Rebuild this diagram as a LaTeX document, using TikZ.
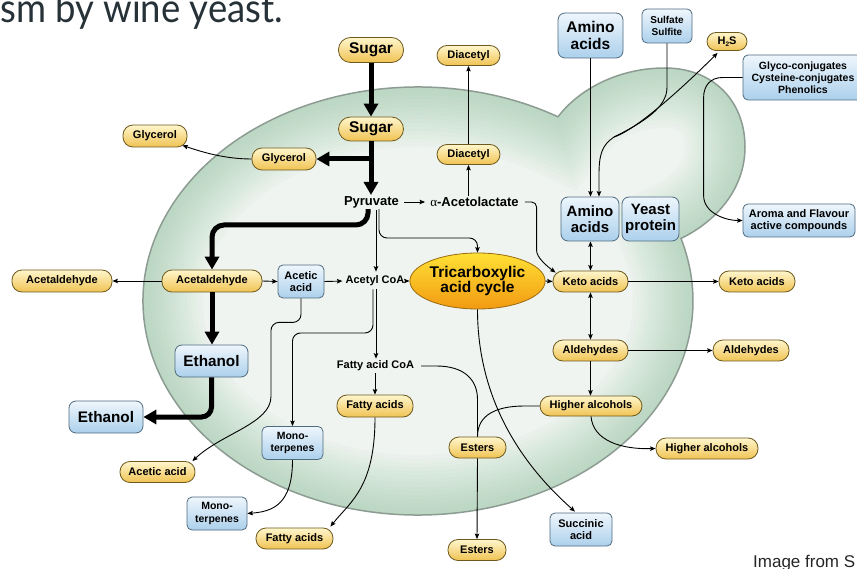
\documentclass[tikz,border=0pt]{standalone}
\usepackage{fontspec}
\setmainfont{Liberation Sans}
\newfontfamily\titlefont{Lato}
\newfontfamily\greekfont{Liberation Serif}
\usetikzlibrary{arrows.meta,calc,shapes.geometric}
\definecolor{ytop}{HTML}{FFF6CC}
\definecolor{ybot}{HTML}{F0C353}
\definecolor{ybd}{HTML}{6E5A1E}
\definecolor{btop}{HTML}{EEF6FC}
\definecolor{bbot}{HTML}{ACD0EC}
\definecolor{bbd}{HTML}{4F6B80}
\definecolor{ttop}{HTML}{FFE135}
\definecolor{tbot}{HTML}{F29A12}
\definecolor{tbd}{HTML}{9B6A10}
\definecolor{cellin}{HTML}{EFF4F0}
\definecolor{cellg}{HTML}{92C3A0}
\definecolor{cellbd}{HTML}{8D9C92}
\definecolor{titlec}{HTML}{263238}
\newcommand\fsz[2]{\fontsize{#1}{#2}\selectfont}
\tikzset{
  cellshape/.style={insert path={(418,301) ++(-59.4:275 and 214)
     arc[start angle=-59.4,end angle=-377,x radius=275,y radius=214]
     .. controls (715,222) and (745,190) .. (745,147)
     .. controls (745,100) and (712,68) .. (665,68)
     .. controls (620,68) and (580,88) .. cycle}},
  pill/.style={draw=ybd, line width=0.8pt, top color=ytop, bottom color=ybot,
     rounded corners=10pt, inner sep=0pt, minimum height=21pt,
     font=\bfseries\fsz{11}{12}},
  box/.style={draw=bbd, line width=0.8pt, top color=btop, bottom color=bbot,
     rounded corners=5pt, inner sep=0pt, align=center, font=\bfseries\fsz{11}{12.5}},
  lbl/.style={inner sep=0pt, font=\bfseries\fsz{11}{12}},
  arr/.style={line width=0.9pt, -{Stealth[length=5.5pt,width=4.5pt,inset=1pt]}},
  darr/.style={line width=0.9pt, {Stealth[length=5.5pt,width=4.5pt,inset=1pt]}-{Stealth[length=5.5pt,width=4.5pt,inset=1pt]}},
  ln/.style={line width=0.9pt},
  big/.style={line width=5pt, -{Triangle[length=13pt,width=14pt]}},
}
\begin{document}
\begin{tikzpicture}[x=1pt,y=-1pt]
\useasboundingbox (0,0) rectangle (857,569);
\fill[white] (0,0) rectangle (857,569);
% cell
\begin{scope}
  \clip[cellshape];
  \fill[cellin, cellshape];
  \foreach \w in {8,16,...,120} {
    \draw[cellg, line width=\w pt, opacity=.042, cellshape];
  }
\end{scope}
\draw[cellbd, line width=1.5pt, cellshape];

% title and credit
\node[anchor=base west, inner sep=0pt, font=\titlefont\fsz{36.5}{40}, text=titlec] (title) at (0,22.5) {\scalebox{1}[1.1]{sm by wine yeast.}};
\node[anchor=base west, inner sep=0pt, font=\fsz{17}{20}, text=black!85] (credit) at (753,567) {Image from S};

% nodes
\node[pill, minimum width=65, minimum height=25, rounded corners=12pt, font=\bfseries\fsz{15.5}{16}] (sugA) at (371,50) {Sugar};
\node[pill, minimum width=65, minimum height=24, rounded corners=12pt, font=\bfseries\fsz{15.5}{16}] (sugB) at (371,129) {Sugar};
\node[pill, minimum width=64, minimum height=22] (glyIn) at (284,159) {Glycerol};
\node[pill, minimum width=64, minimum height=22] (glyOut) at (155,136) {Glycerol};
\node[lbl, font=\bfseries\fsz{13}{14}] (pyr) at (371.5,202) {Pyruvate};
\node[lbl, font=\bfseries\fsz{13}{14}] (acl) at (474.5,202) {{\greekfont\mdseries α}-Acetolactate};
\node[pill, minimum width=63, minimum height=20] (diaB) at (468.5,154.5) {Diacetyl};
\node[pill, minimum width=63, minimum height=20] (diaT) at (468.5,55.5) {Diacetyl};
\node[box, minimum width=65, minimum height=45, rounded corners=7pt, font=\bfseries\fsz{15.5}{17}] (aminoT) at (590.5,35.5) {Amino\\acids};
\node[box, minimum width=50, minimum height=34, font=\bfseries\fsz{10}{11.5}] (sulf) at (667,26) {Sulfate\\Sulfite};
\node[pill, minimum width=40, minimum height=18, rounded corners=9pt] (h2s) at (727,41.5) {H\raisebox{-0.35ex}{\fsz{6.5}{7}2}S};
\node[box, minimum width=120, minimum height=45, font=\bfseries\fsz{10.5}{12}] (glyco) at (803,77.5) {Glyco-conjugates\\Cysteine-conjugates\\Phenolics};
\node[box, minimum width=58, minimum height=44, rounded corners=7pt, font=\bfseries\fsz{15}{16.5}] (aminoIn) at (590,219) {Amino\\acids};
\node[box, minimum width=57, minimum height=44, rounded corners=7pt, font=\bfseries\fsz{15}{16.5}] (yeast) at (650.5,219) {Yeast\\protein};
\node[box, minimum width=112, minimum height=33, font=\bfseries\fsz{11}{12.5}] (aroma) at (799,220.5) {Aroma and Flavour\\active compounds};
\node[ellipse, draw=tbd, line width=0.8pt, top color=ttop, bottom color=tbot, minimum width=115, minimum height=56, inner sep=0pt, align=center, font=\bfseries\fsz{15.5}{15}] (tca) at (477.5,281) {Tricarboxylic\\acid cycle};
\node[pill, minimum width=75] (ketoIn) at (590.5,281.5) {Keto acids};
\node[pill, minimum width=76] (ketoOut) at (757,281.5) {Keto acids};
\node[pill, minimum width=75] (aldIn) at (590.5,350.5) {Aldehydes};
\node[pill, minimum width=76] (aldOut) at (751,350.5) {Aldehydes};
\node[pill, minimum width=102, minimum height=20] (higIn) at (591,406) {Higher alcohols};
\node[pill, minimum width=102] (higOut) at (707,448.5) {Higher alcohols};
\node[pill, minimum width=57] (esterIn) at (477.5,447.5) {Esters};
\node[pill, minimum width=58] (esterOut) at (477,550) {Esters};
\node[box, minimum width=62, minimum height=33] (succ) at (581,529.5) {Succinic\\acid};
\node[pill, minimum width=100, minimum height=22] (acetOut) at (62,281) {Acetaldehyde};
\node[pill, minimum width=100, minimum height=22] (acetIn) at (212,281) {Acetaldehyde};
\node[box, minimum width=46, minimum height=33] (acetic) at (301,281.5) {Acetic\\acid};
\node[lbl] (acoa) at (375,281) {Acetyl CoA};
\node[box, minimum width=73, minimum height=32, rounded corners=7pt, font=\bfseries\fsz{15.3}{17}] (ethIn) at (211.5,361) {Ethanol};
\node[box, minimum width=74, minimum height=32, rounded corners=7pt, font=\bfseries\fsz{15.3}{17}] (ethOut) at (106,417) {Ethanol};
\node[lbl] (fcoa) at (375.5,366) {Fatty acid CoA};
\node[pill, minimum width=76, minimum height=22] (fattyIn) at (375,406) {Fatty acids};
\node[pill, minimum width=77] (fattyOut) at (294.5,538.5) {Fatty acids};
\node[box, minimum width=61, minimum height=33, font=\bfseries\fsz{10.5}{12.5}] (monoIn) at (292.5,443) {Mono-\\terpenes};
\node[box, minimum width=60, minimum height=33, font=\bfseries\fsz{10.5}{12.5}] (monoOut) at (217,513.5) {Mono-\\terpenes};
\node[pill, minimum width=75] (aceticOut) at (157.5,472) {Acetic acid};

% thick connectors
\draw[big] (sugA.south) -- (sugB.north);
\draw[big, shorten >=1pt] (sugB.south) -- (sugB.south |- pyr.north);
\draw[big] ($(sugB.south |- glyIn.east)+(2.5,0)$) -- (glyIn.east);
\draw[big, rounded corners=12pt] ($(pyr.south)+(-3.5,1)$) |- (acetIn.north |- 0,225) -- (acetIn.north);
\draw[big] (acetIn.south) -- (acetIn.south |- ethIn.north);
\draw[big, rounded corners=10pt] (ethIn.south) |- (ethOut.east);

% thin connectors
\draw[arr] (glyIn.west) .. controls +(-28,0) and +(18,6) .. ($(glyOut.south east)+(-5,-2)$);
\draw[arr] (acetIn.west) -- (acetOut.east);
\draw[arr] (acetIn.east) -- (acetic.west);
\draw[arr, shorten >=3pt] (acetic.east) -- (acoa.west);
\draw[arr, shorten <=5pt, shorten >=5pt] (pyr.east) -- (acl.west);
\draw[arr, shorten <=1pt] (diaB.south |- acl.north) -- (diaB.south);
\draw[arr] (diaB.north) -- (diaT.south);
\draw[arr, rounded corners=5pt] ($(acl.east)+(6,0)$) -| ($(ketoIn.north west)+(-16,-25)$) .. controls +(0,12) and +(-8,-6) .. ($(ketoIn.north west)+(3,2)$);
\draw[arr, shorten <=2pt, shorten >=4pt] ($(acoa.north |- pyr.south)+(1,0)$) -- ($(acoa.north)+(1,0)$);
\draw[arr, rounded corners=8pt] ($(pyr.south)+(7.5,1)$) |- (tca.north |- 0,238) -- (tca.north);
\draw[arr, shorten <=2pt] (acoa.east) -- (tca.west);
\draw[arr] (tca.east) -- (ketoIn.west);
\draw[arr] (ketoIn.east) -- (ketoOut.west);
\draw[darr] (aminoIn.south -| ketoIn.north) -- (ketoIn.north);
\draw[darr] (ketoIn.south) -- (aldIn.north);
\draw[arr] (aldIn.east) -- (aldOut.west);
\draw[arr] (aldIn.south) -- (aldIn.south |- higIn.north);
\draw[arr] (higIn.south) .. controls +(2,24) and +(-35,1) .. (higOut.west);
\draw[ln] (higIn.west) -- ++(-15,0) .. controls +(-28,0) and +(0,-22) .. (esterIn.north);
\draw[ln] ($(fcoa.east)+(7,0)$) -- ++(15,0) .. controls +(28,0) and +(0,-20) .. ($(esterIn.north)+(0,-37)$) -- (esterIn.north);
\draw[arr] (esterIn.south) -- (esterOut.north);
\draw[arr] (tca.south) .. controls +(0,71) and +(-70,-62) .. ($(succ.north)+(-6,-1)$);
\draw[arr, shorten <=3pt, shorten >=2pt] ($(acoa.south)+(1,0)$) -- ($(fcoa.north)+(0.5,0)$);
\draw[arr, rounded corners=8pt] ($(acoa.south)+(-2,3)$) |- (monoIn.north |- 0,333) -- (monoIn.north);
\draw[arr, shorten <=2pt] (fcoa.south -| fattyIn.north) -- (fattyIn.north);
\draw[arr, rounded corners=8pt] (acetic.south) |- ($(acetic.south)+(-30,24)$) -- ($(acetic.south)+(-30,90)$) .. controls +(0,35) and +(30,-28) .. ($(aceticOut.north east)+(-3,0)$);
\draw[arr] (monoIn.south) .. controls +(0,45) and +(25,-2) .. (monoOut.east);
\draw[arr] (fattyIn.south) .. controls +(0,70) and +(20,-25) .. ($(fattyOut.north east)+(-3,-1)$);
\draw[arr] (aminoT.south) -- (aminoT.south |- aminoIn.north);
\coordinate (mrg) at (614,137);
\draw[arr] (sulf.south) -- ($(sulf.south)+(0,44)$) .. controls +(0,20) and +(30,-15) .. (mrg) .. controls +(-12,8) and +(0,-20) .. ($(aminoIn.north)+(9,-22)$) -- ($(aminoIn.north)+(9,0)$);
\draw[arr] (mrg) .. controls +(25,-8) and +(-25,25) .. ($(h2s.south west)+(11,2)$);
\draw[arr] (glyco.west) -- ($(glyco.west)+(-20,0)$) .. controls +(-12,0) and +(0,-12) .. ($(glyco.west)+(-39,20)$) -- ($(aroma.west)+(-39,-25)$) .. controls +(0,17) and +(-18,0) .. (aroma.west);
\end{tikzpicture}
\end{document}
